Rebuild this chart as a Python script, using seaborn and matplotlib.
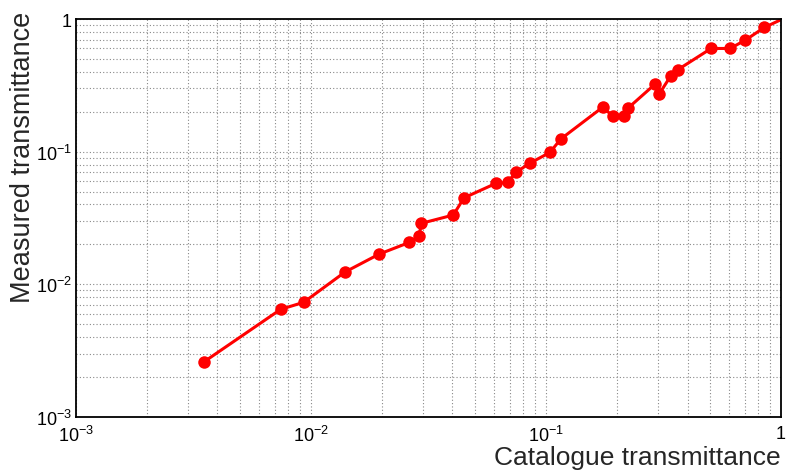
import math
import matplotlib
matplotlib.use("Agg")
import matplotlib.pyplot as plt
import matplotlib.ticker as mticker
import seaborn as sns
import pandas as pd

# catalogue vs measured transmittance
catalogue = [0.00351, 0.00743, 0.00931, 0.01395, 0.0195, 0.0262, 0.0289, 0.0294,
             0.0403, 0.0448, 0.0612, 0.0691, 0.0743, 0.0855, 0.104, 0.1155,
             0.174, 0.1935, 0.2153, 0.224, 0.291, 0.303, 0.3395, 0.363,
             0.504, 0.607, 0.705, 0.849, 1.1]
measured = [0.00261, 0.00648, 0.00732, 0.01238, 0.0169, 0.0207, 0.0231, 0.0288,
            0.0333, 0.0449, 0.0577, 0.0587, 0.0698, 0.082, 0.0988, 0.1245,
            0.216, 0.1845, 0.1865, 0.214, 0.323, 0.272, 0.373, 0.414,
            0.600, 0.600, 0.693, 0.864, 1.07]

df = pd.DataFrame({"catalogue": catalogue, "measured": measured})

sns.set_style("white")
plt.rcParams["font.family"] = ["Liberation Sans", "DejaVu Sans"]
plt.rcParams["mathtext.fontset"] = "custom"
plt.rcParams["mathtext.rm"] = "Liberation Sans"
plt.rcParams["mathtext.it"] = "Liberation Sans:italic"

fig, ax = plt.subplots(figsize=(7.89, 4.77), dpi=100)
fig.subplots_adjust(left=0.0963, right=0.9899, top=0.958, bottom=0.1237)

sns.lineplot(data=df, x="catalogue", y="measured", ax=ax, sort=False, estimator=None,
             color="#ff0000", linewidth=2.2, marker="o", markersize=9,
             markeredgecolor="#ff0000", markeredgewidth=0)

ax.set_xscale("log")
ax.set_yscale("log")
ax.set_xlim(1e-3, 1)
ax.set_ylim(1e-3, 1)

def fmt(v, pos):
    if abs(v - 1) < 1e-9:
        return "1"
    e = int(round(math.log10(v)))
    return r"$\mathregular{10^{%d}}$" % e

ax.xaxis.set_major_locator(mticker.LogLocator(base=10, numticks=10))
ax.yaxis.set_major_locator(mticker.LogLocator(base=10, numticks=10))
ax.xaxis.set_minor_locator(mticker.LogLocator(base=10, subs=range(2, 10), numticks=20))
ax.yaxis.set_minor_locator(mticker.LogLocator(base=10, subs=range(2, 10), numticks=20))
ax.xaxis.set_major_formatter(mticker.FuncFormatter(fmt))
ax.yaxis.set_major_formatter(mticker.FuncFormatter(fmt))
ax.xaxis.set_minor_formatter(mticker.NullFormatter())
ax.yaxis.set_minor_formatter(mticker.NullFormatter())

ax.grid(True, which="both", color="#888888", linestyle=(0, (1, 2)), linewidth=0.8)
ax.set_axisbelow(True)

ax.tick_params(which="both", direction="in", top=False, right=False, labelsize=13, colors="black")
ax.tick_params(which="major", length=11, width=1)
ax.tick_params(which="minor", length=5.5, width=1)
ax.tick_params(axis="x", pad=6)
ax.tick_params(axis="y", pad=3)

for s in ax.spines.values():
    s.set_visible(True)
    s.set_color("black")
    s.set_linewidth(1.3)

ax.set_xlabel("Catalogue transmittance", fontsize=19, loc="right", labelpad=0)
ax.set_ylabel("Measured transmittance", fontsize=19.5, loc="top")
ax.yaxis.set_label_coords(-0.056, 1.02)

fig.savefig("out.png", dpi=100)
